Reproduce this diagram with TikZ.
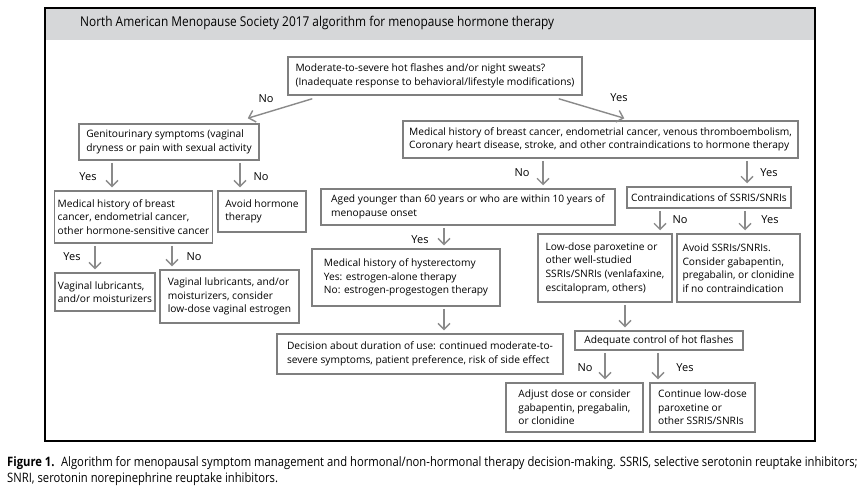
\documentclass[tikz,border=0pt]{standalone}
\usepackage{fontspec}
\setmainfont{Open Sans}
\newfontfamily\titlefont[FakeStretch=0.88]{Open Sans}
\newfontfamily\capfont[FakeStretch=0.865]{Open Sans}
\usetikzlibrary{arrows.meta,calc}
\definecolor{boxgray}{HTML}{7F7F7F}
\definecolor{arrgray}{HTML}{8A8A8A}
\definecolor{bandgray}{HTML}{D6D7D9}
\begin{document}
\begin{tikzpicture}[x=1pt,y=-1pt,
  box/.style={draw=boxgray, line width=1.5pt, fill=white, inner xsep=3pt, inner ysep=2pt,
    align=left, font=\fontsize{10.2}{13.6}\selectfont},
  arr/.style={draw=arrgray, line width=1.4pt, -{Straight Barb[length=6pt,width=12pt]},
    shorten <=2pt, shorten >=3pt},
  lbl/.style={font=\fontsize{11}{13}\selectfont, inner sep=0pt}]
\useasboundingbox (0,0) rectangle (860,496);
\fill[white] (0,0) rectangle (860,496);
% title band and frame
\fill[bandgray] (45,8) rectangle (815,40);
\node[anchor=west, inner sep=0pt, font=\titlefont\fontsize{13.5}{15}\selectfont] (title) at (80,23)
  {North American Menopause Society 2017 algorithm for menopause hormone therapy};
\draw[black, line width=2pt] (45,8) rectangle (815,441);

% boxes
\node[box, minimum width=294, minimum height=38] (top) at (435,76)
  {Moderate-to-severe hot flashes and/or night sweats?\\(Inadequate response to behavioral/lifestyle modifications)};
\node[box, minimum width=180, minimum height=36] (gen) at (169,142)
  {Genitourinary symptoms (vaginal\\dryness or pain with sexual activity};
\node[box, minimum width=395, minimum height=37] (med) at (600.5,139.5)
  {Medical history of breast cancer, endometrial cancer, venous thromboembolism,\\Coronary heart disease, stroke, and other contraindications to hormone therapy};
\node[box, minimum width=157, minimum height=52] (bcan) at (133.5,217)
  {Medical history of breast\\cancer, endometrial cancer,\\other hormone-sensitive cancer};
\node[box, minimum width=88, minimum height=41] (avoid) at (262,211.5)
  {Avoid hormone\\therapy};
\node[box, minimum width=100, minimum height=38] (lub1) at (105,292)
  {Vaginal lubricants,\\and/or moisturizers};
\node[box, minimum width=139, minimum height=53] (lub2) at (229.5,296.5)
  {Vaginal lubricants, and/or\\moisturizers, consider\\low-dose vaginal estrogen};
\node[box, minimum width=294, minimum height=36] (aged) at (468,207)
  {Aged younger than 60 years or who are within 10 years of\\menopause onset};
\node[box, minimum width=164, minimum height=21] (contra) at (709,197.5)
  {Contraindications of SSRIS/SNRIs};
\node[box, minimum width=188, minimum height=57] (hyst) at (406,277.5)
  {Medical history of hysterectomy\\Yes: estrogen-alone therapy\\No: estrogen-progestogen therapy};
\node[box, minimum width=286, minimum height=40] (dec) at (420,354)
  {Decision about duration of use: continued moderate-to-\\severe symptoms, patient preference, risk of side effect};
\node[box, minimum width=134, minimum height=68] (low) at (605,268)
  {Low-dose paroxetine or\\other well-studied\\SSRIs/SNRIs (venlafaxine,\\escitalopram, others)};
\node[box, minimum width=123, minimum height=68] (avss) at (738.5,268)
  {Avoid SSRIs/SNRIs.\\Consider gabapentin,\\pregabalin, or clonidine\\if no contraindication};
\node[box, minimum width=168, minimum height=19] (adeq) at (659,340.5)
  {Adequate control of hot flashes};
\node[box, minimum width=137, minimum height=49] (adj) at (574.5,407.5)
  {Adjust dose or consider\\gabapentin, pregabalin,\\or clonidine};
\node[box, minimum width=105, minimum height=49] (cont) at (702.5,407.5)
  {Continue low-dose\\paroxetine or\\other SSRIS/SNRIs};

% diagonal arrows
\draw[arr, shorten <=0pt, shorten >=0pt] ($(top.south west)+(25,3)$) -- ($(gen.north east)+(-12,-5)$);
\draw[arr, shorten <=0pt, shorten >=0pt] ($(top.south east)+(-24,3)$) -- ($(med.north west)+(222,-2)$);
\node[lbl] (lno1) at (266,99) {No};
\node[lbl] (lyes1) at (619,98) {Yes};

% column coordinates
\coordinate (c112) at (112,0);
\coordinate (c240) at (240,0);
\coordinate (c95) at (95,0);
\coordinate (c172) at (172,0);
\coordinate (c543) at (543,0);
\coordinate (c747) at (747,0);
\coordinate (c444) at (444,0);
\coordinate (c660) at (660,0);
\coordinate (c745) at (745,0);
\coordinate (c625) at (625,0);
\coordinate (c605) at (605,0);
\coordinate (c658) at (658,0);

\draw[arr] (gen.south -| c112) -- (bcan.north -| c112);
\draw[arr] (gen.south -| c240) -- (avoid.north -| c240);
\draw[arr] (bcan.south -| c95) -- (lub1.north -| c95);
\draw[arr] (bcan.south -| c172) -- (lub2.north -| c172);
\draw[arr] (med.south -| c543) -- (aged.north -| c543);
\draw[arr] (med.south -| c747) -- (contra.north -| c747);
\draw[arr] (aged.south -| c444) -- (hyst.north -| c444);
\draw[arr] (hyst.south -| c444) -- (dec.north -| c444);
\draw[arr] (contra.south -| c660) -- (low.north -| c660);
\draw[arr] (contra.south -| c745) -- (avss.north -| c745);
\draw[arr] (low.south -| c625) -- (adeq.north -| c625);
\draw[arr] (adeq.south -| c605) -- (adj.north -| c605);
\draw[arr] (adeq.south -| c658) -- (cont.north -| c658);

\node[lbl] (l1) at (88,177) {Yes};
\node[lbl] (l2) at (261,177) {No};
\node[lbl] (l3) at (72,257) {Yes};
\node[lbl] (l4) at (194,257) {No};
\node[lbl] (l5) at (522,173) {No};
\node[lbl] (l6) at (769,173) {Yes};
\node[lbl] (l7) at (420,240) {Yes};
\node[lbl] (l8) at (680,220) {No};
\node[lbl] (l9) at (770,220) {Yes};
\node[lbl] (l10) at (585,368) {No};
\node[lbl] (l11) at (685,368) {Yes};

% caption
\node[anchor=west, inner sep=0pt, align=left, font=\capfont\fontsize{13}{16}\selectfont] (cap) at (7,471)
  {\textbf{Figure 1.}\enspace Algorithm for menopausal symptom management and hormonal/non-hormonal therapy decision-making. SSRIS, selective serotonin reuptake inhibitors;\\SNRI, serotonin norepinephrine reuptake inhibitors.};
\end{tikzpicture}
\end{document}
